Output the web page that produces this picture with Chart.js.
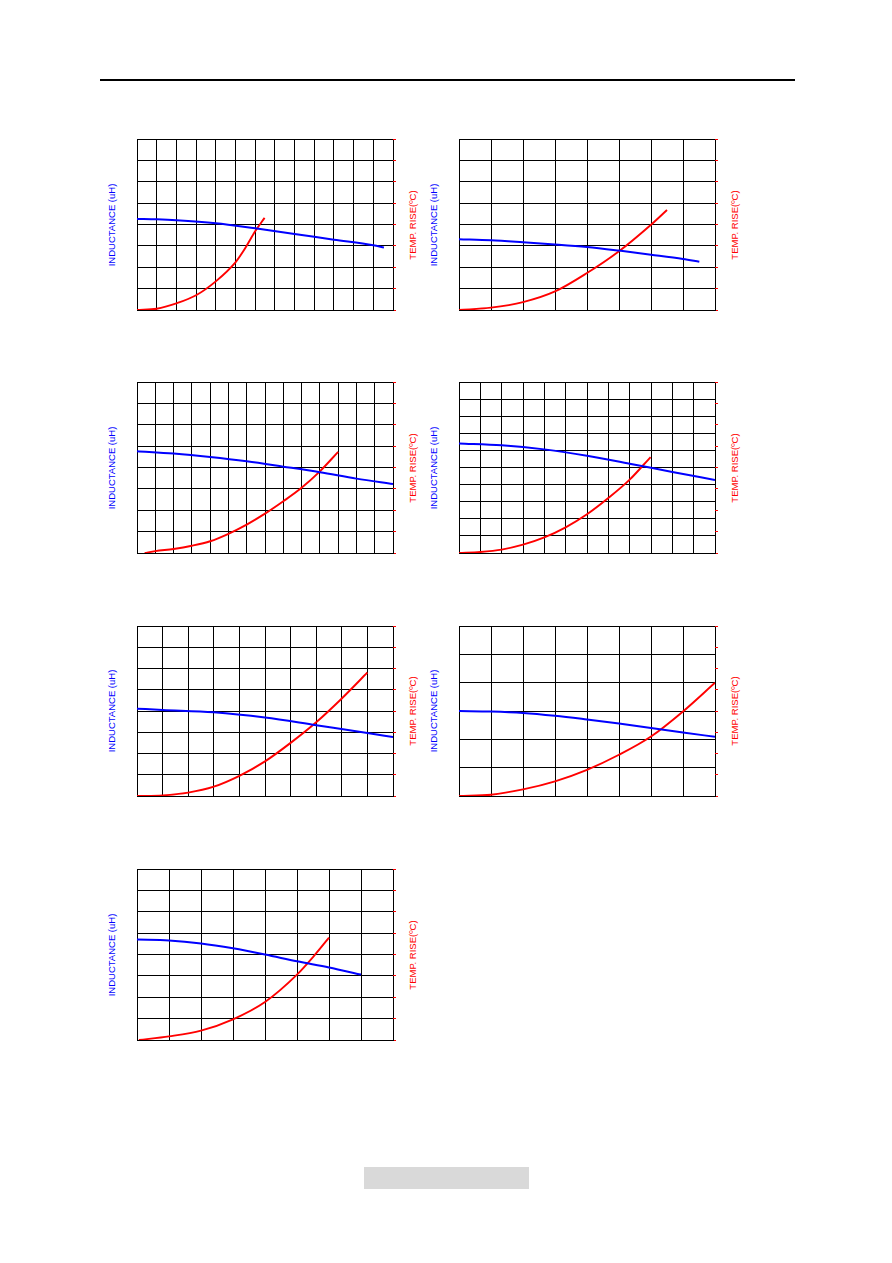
<!DOCTYPE html>
<html>
<head>
<meta charset="utf-8">
<script src="https://cdn.jsdelivr.net/npm/chart.js@4.4.1/dist/chart.umd.min.js"></script>
<style>
  body { margin: 0; background: #fff; width: 892px; height: 1263px; position: relative; overflow: hidden; }
  .rule { position: absolute; left: 100px; top: 79px; width: 695px; height: 2px; background: #000; }
  .footer { position: absolute; left: 364px; top: 1167px; width: 165px; height: 22px; background: #d9d9d9; }
  canvas { position: absolute; }
  .lbl { position: absolute; font-family: "Liberation Sans", Arial, sans-serif; font-size: 9.5px; white-space: nowrap;
         transform: translate(-50%, -50%) rotate(-90deg); line-height: 1; }
  .ind { color: #0000ff; }
  .tmp { color: #ff0000; }
</style>
</head>
<body>
<div class="rule"></div>
<div class="footer"></div>

<script>
// values are read in grid divisions (no tick labels on the original)
// chart 1
const c1IndX = [0, 1, 2, 4, 6, 8, 10, 12, 12.54]
const c1Ind = [4.26, 4.24, 4.2, 4.06, 3.82, 3.56, 3.29, 3.03, 2.92]
const c1TempX = [0, 1, 2, 3, 4, 5, 5.5, 6, 6.48]
const c1Temp = [0, 0.06, 0.31, 0.69, 1.34, 2.23, 2.9, 3.68, 4.31]

// chart 2
const c2IndX = [0, 1, 2, 3, 4, 5, 6, 7, 7.51]
const c2Ind = [3.31, 3.26, 3.17, 3.07, 2.95, 2.78, 2.59, 2.39, 2.26]
const c2TempX = [0, 1, 2, 3, 4, 5, 6, 6.5]
const c2Temp = [0, 0.11, 0.37, 0.87, 1.73, 2.75, 3.99, 4.68]

// chart 3
const c3IndX = [0, 2, 4, 6, 8, 10, 12, 14]
const c3Ind = [4.76, 4.65, 4.49, 4.29, 4.04, 3.78, 3.48, 3.23]
const c3TempX = [0.42, 1, 2, 3, 4, 5, 6, 7, 8, 9, 10, 11]
const c3Temp = [0, 0.09, 0.19, 0.34, 0.55, 0.9, 1.33, 1.84, 2.42, 3.05, 3.82, 4.73]

// chart 4
const c4IndX = [0, 2, 4, 6, 8, 10, 12]
const c4Ind = [6.41, 6.30, 6.06, 5.69, 5.22, 4.74, 4.27]
const c4TempX = [0, 1, 2, 3, 4, 5, 6, 7, 8, 8.98]
const c4Temp = [0, 0.05, 0.16, 0.39, 0.73, 1.2, 1.81, 2.57, 3.43, 4.49]

// chart 5
const c5IndX = [0, 1, 3, 5, 7, 9, 10]
const c5Ind = [4.11, 4.05, 3.94, 3.69, 3.33, 2.97, 2.77]
const c5TempX = [0, 1, 2, 3, 4, 5, 6, 7, 8, 9]
const c5Temp = [0, 0.03, 0.16, 0.44, 0.95, 1.63, 2.5, 3.47, 4.59, 5.81]

// chart 6
const c6IndX = [0, 1, 2, 3, 4, 5, 6, 7, 8]
const c6Ind = [3.0, 2.98, 2.93, 2.83, 2.70, 2.56, 2.40, 2.24, 2.09]
const c6TempX = [0, 1, 2, 3, 4, 5, 6, 7, 8]
const c6Temp = [0, 0.06, 0.31, 0.69, 1.23, 1.94, 2.8, 3.98, 5.33]

// chart 7
const c7IndX = [0, 1, 2, 3, 4, 5, 6, 7]
const c7Ind = [4.70, 4.66, 4.52, 4.29, 4.0, 3.68, 3.39, 3.06]
const c7TempX = [0.06, 1, 2, 3, 4, 5, 5.5, 6]
const c7Temp = [0, 0.17, 0.44, 0.97, 1.78, 3.06, 3.88, 4.79]

const indLabel = 'INDUCTANCE (uH)'
const tempLabel = 'TEMP. RISE(ºC)'

function pts(xs, ys) {
    return xs.map((x, i) => ({ x: x, y: ys[i] }))
}

function addLabel(text, cls, x, y) {
    let d = document.createElement('div')
    d.className = 'lbl ' + cls
    d.textContent = text
    d.style.left = x + 'px'
    d.style.top = y + 'px'
    document.body.appendChild(d)
}

// box = plot area [left, top, right, bottom] on the page
function makeChart(box, cols, rows, indX, ind, tempX, temp) {
    const [l, t, r, b] = box
    const w = r - l, h = b - t
    let cv = document.createElement('canvas')
    cv.width = w + 5
    cv.height = h + 4
    cv.style.left = (l - 2) + 'px'
    cv.style.top = (t - 2) + 'px'
    document.body.appendChild(cv)

    new Chart(cv, {
        type: 'line',
        data: {
            datasets: [{
                label: indLabel,
                data: pts(indX, ind),
                borderColor: '#0000ff',
                borderWidth: 2,
                pointRadius: 0,
                cubicInterpolationMode: 'monotone',
                yAxisID: 'y'
            }, {
                label: tempLabel,
                data: pts(tempX, temp),
                borderColor: '#ff0000',
                borderWidth: 1.9,
                pointRadius: 0,
                cubicInterpolationMode: 'monotone',
                yAxisID: 'y1'
            }]
        },
        options: {
            responsive: false,
            animation: false,
            devicePixelRatio: 1,
            layout: { padding: { left: 2, top: 2, bottom: 2, right: 0 } },
            plugins: { legend: { display: false }, tooltip: { enabled: false } },
            scales: {
                x: {
                    type: 'linear', min: 0, max: cols,
                    ticks: { display: false, stepSize: 1 },
                    grid: { color: '#000', lineWidth: 1, drawTicks: false },
                    border: { color: '#000' }
                },
                y: {
                    min: 0, max: rows,
                    ticks: { display: false, stepSize: 1 },
                    grid: { color: '#000', lineWidth: 1, drawTicks: false },
                    border: { color: '#000' }
                },
                y1: {
                    position: 'right', min: 0, max: 8,
                    ticks: { display: false, stepSize: 1 },
                    grid: { drawOnChartArea: false, drawTicks: true, tickLength: 3, color: '#ff0000' },
                    border: { display: false }
                }
            }
        }
    })

    addLabel(indLabel, 'ind', l - 25, (t + b) / 2)
    addLabel(tempLabel, 'tmp', r + 20, (t + b) / 2)
}

makeChart([137, 139, 393, 310], 13, 8, c1IndX, c1Ind, c1TempX, c1Temp)
makeChart([459, 139, 715, 310], 8, 8, c2IndX, c2Ind, c2TempX, c2Temp)
makeChart([137, 382, 393, 553], 14, 8, c3IndX, c3Ind, c3TempX, c3Temp)
makeChart([459, 382, 715, 553], 12, 10, c4IndX, c4Ind, c4TempX, c4Temp)
makeChart([137, 626, 393, 796], 10, 8, c5IndX, c5Ind, c5TempX, c5Temp)
makeChart([459, 626, 715, 796], 8, 6, c6IndX, c6Ind, c6TempX, c6Temp)
makeChart([137, 869, 393, 1040], 8, 8, c7IndX, c7Ind, c7TempX, c7Temp)
</script>
</body>
</html>
